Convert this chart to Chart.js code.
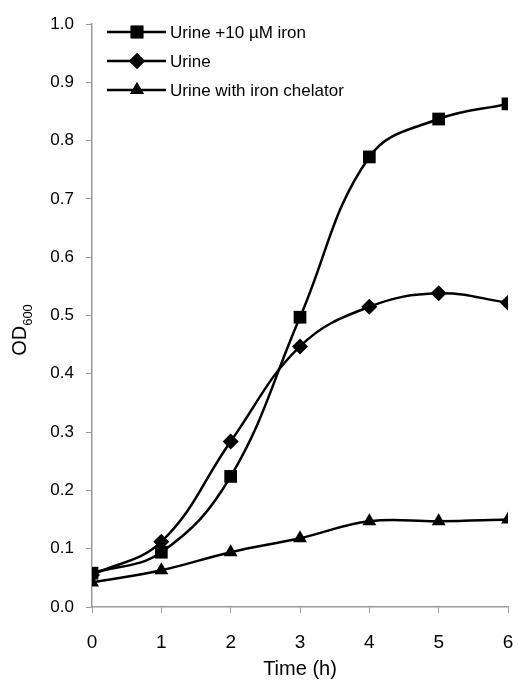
<!DOCTYPE html>
<html>
<head>
<meta charset="utf-8">
<script src="https://cdn.jsdelivr.net/npm/chart.js@4.4.0/dist/chart.umd.min.js"></script>
<style>
  html, body { margin: 0; padding: 0; background: #fff; }
  #wrap { width: 518px; height: 683px; position: relative; }
</style>
</head>
<body>
<div id="wrap"><canvas id="od"></canvas></div>
<script>
// tiempo (h)
const hours = [0, 1, 2, 3, 4, 5, 6];
// OD600 por condicion
const ironValues = [0.058, 0.094, 0.224, 0.497, 0.772, 0.837, 0.863];
const urineValues = [0.055, 0.112, 0.284, 0.447, 0.515, 0.538, 0.522];
const chelatorValues = [0.042, 0.063, 0.094, 0.118, 0.147, 0.147, 0.150];
const seriesLabels = ['Urine +10 \u00b5M iron', 'Urine', 'Urine with iron chelator'];
const yTicks = [0, 0.1, 0.2, 0.3, 0.4, 0.5, 0.6, 0.7, 0.8, 0.9, 1.0];

const FONT = "'Liberation Sans', Arial, sans-serif";

const mkSet = (label, values, style, r) => ({
  label: label,
  data: hours.map((h, i) => ({ x: h, y: values[i] })),
  borderColor: '#000',
  backgroundColor: '#000',
  borderWidth: 2.5,
  pointStyle: style,
  pointRadius: r,
  pointBorderWidth: 0,
  tension: 0.4,
  fill: false
});

// leyenda dentro del area y titulo del eje y con subindice
const extras = {
  id: 'extras',
  afterDraw(chart) {
    const ctx = chart.ctx;
    ctx.save();
    const rows = [32, 61, 90];
    chart.data.datasets.forEach((ds, i) => {
      const y = rows[i];
      ctx.strokeStyle = '#000';
      ctx.lineWidth = 2.5;
      ctx.beginPath();
      ctx.moveTo(107, y);
      ctx.lineTo(166, y);
      ctx.stroke();
      Chart.helpers.drawPoint(ctx, { pointStyle: ds.pointStyle, radius: ds.pointRadius, rotation: 0, borderWidth: 0 }, 137, y);
      ctx.fillStyle = '#000';
      ctx.fill();
      ctx.font = '17px ' + FONT;
      ctx.textAlign = 'left';
      ctx.textBaseline = 'middle';
      ctx.fillText(ds.label, 170, y + 1);
    });
    // OD600
    ctx.translate(26, 330);
    ctx.rotate(-Math.PI / 2);
    ctx.fillStyle = '#000';
    ctx.textBaseline = 'alphabetic';
    ctx.textAlign = 'left';
    ctx.font = '20px ' + FONT;
    const w = ctx.measureText('OD').width;
    ctx.font = '13px ' + FONT;
    const w2 = ctx.measureText('600').width;
    const start = -(w + w2) / 2;
    ctx.font = '20px ' + FONT;
    ctx.fillText('OD', start, 0);
    ctx.font = '13px ' + FONT;
    ctx.fillText('600', start + w, 6);
    ctx.restore();
  }
};

new Chart(document.getElementById('od'), {
  type: 'line',
  data: {
    datasets: [
      mkSet(seriesLabels[0], ironValues, 'rect', 9),
      mkSet(seriesLabels[1], urineValues, 'rectRot', 8),
      mkSet(seriesLabels[2], chelatorValues, 'triangle', 8)
    ]
  },
  options: {
    responsive: true,
    maintainAspectRatio: false,
    animation: false,
    layout: { padding: { top: 24, right: 10, left: 0, bottom: 0 } },
    plugins: { legend: { display: false }, tooltip: { enabled: false } },
    scales: {
      x: {
        type: 'linear',
        min: 0,
        max: 6,
        afterBuildTicks: (axis) => { axis.ticks = hours.map(v => ({ value: v })); },
        afterFit: (axis) => { axis.height = 76; axis.paddingRight = 0; axis.paddingLeft = 0; },
        border: { color: '#999', width: 1.5 },
        grid: { drawOnChartArea: false, tickLength: 6, color: '#999' },
        ticks: { color: '#000', font: { family: FONT, size: 19 }, padding: 18, maxRotation: 0 },
        title: { display: true, text: 'Time (h)', color: '#000', font: { family: FONT, size: 20 }, padding: { top: 0, bottom: 2 } }
      },
      y: {
        min: 0,
        max: 1,
        afterBuildTicks: (axis) => { axis.ticks = yTicks.map(v => ({ value: v })); },
        afterFit: (axis) => { axis.width = 92; axis.paddingTop = 0; axis.paddingBottom = 0; },
        border: { color: '#999', width: 1.5 },
        grid: { drawOnChartArea: false, tickLength: 6, color: '#999' },
        ticks: { color: '#000', font: { family: FONT, size: 17 }, padding: 12, callback: (v) => v.toFixed(1) }
      }
    }
  },
  plugins: [extras]
});
</script>
</body>
</html>
